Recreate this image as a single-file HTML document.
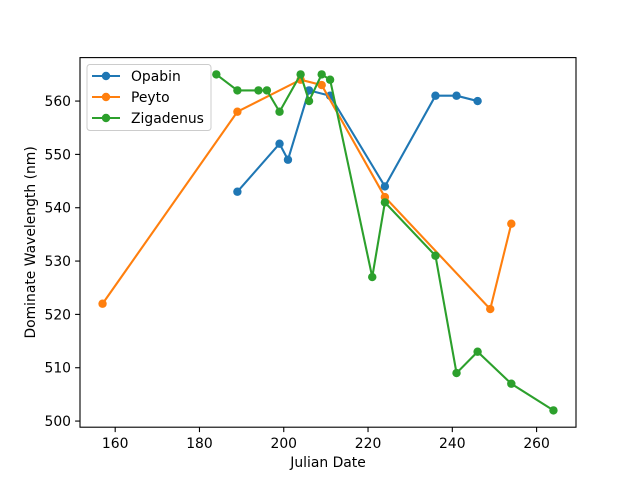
<!DOCTYPE html>
<html><head><meta charset="utf-8"><style>body{margin:0;background:#fff}svg{display:block;font-family:"DejaVu Sans","Liberation Sans",sans-serif}</style></head>
<body>
<svg id="chart" width="640" height="480"></svg>
<script>
const opabinX=[189,199,201,206,211,224,236,241,246];
const opabinY=[543,552,549,562,561,544,561,561,560];
const peytoX=[157,189,204,209,224,249,254];
const peytoY=[522,558,564,563,542,521,537];
const zigX=[184,189,194,196,199,204,206,209,211,221,224,236,241,246,254,264];
const zigY=[565,562,562,562,558,565,560,565,564,527,541,531,509,513,507,502];
const xTicks=[160,180,200,220,240,260];
const yTicks=[500,510,520,530,540,550,560];
const seriesNames=["Opabin","Peyto","Zigadenus"];
const colors=["#1f77b4","#ff7f0e","#2ca02c"];
const L=80,R=576,T=57.6,B=427.2,xmin=151.65,xmax=269.35,ymin=498.85,ymax=568.15;
const sx=v=>L+(v-xmin)/(xmax-xmin)*(R-L);
const sy=v=>B-(v-ymin)/(ymax-ymin)*(B-T);
const svg=document.getElementById('chart');const NS="http://www.w3.org/2000/svg";
function mk(t,a,p){const e=document.createElementNS(NS,t);for(const k in a)e.setAttribute(k,a[k]);(p||svg).appendChild(e);return e;}
const FS=13.9;
xTicks.forEach(v=>{const g=mk('g',{});


mk('line',{x1:sx(v),x2:sx(v),y1:B,y2:B+4.9,stroke:'#000','stroke-width':1.1},g);
const t=mk('text',{x:sx(v),y:B+21,'text-anchor':'middle','font-size':FS},g);t.textContent=v;});
yTicks.forEach(v=>{const g=mk('g',{});


mk('line',{x1:L-4.9,x2:L,y1:sy(v),y2:sy(v),stroke:'#000','stroke-width':1.1},g);
const t=mk('text',{x:L-9,y:sy(v)+5,'text-anchor':'end','font-size':FS},g);t.textContent=v;});
const sets=[[opabinX,opabinY],[peytoX,peytoY],[zigX,zigY]];
sets.forEach((s,i)=>{const g=mk('g',{});


mk('polyline',{points:s[0].map((x,j)=>sx(x)+','+sy(s[1][j])).join(' '),fill:'none',stroke:colors[i],'stroke-width':2.1},g);
s[0].forEach((x,j)=>{const c=mk('circle',{cx:sx(x),cy:sy(s[1][j]),r:4.2,fill:colors[i]},g);

});});
const fr=mk('rect',{x:L,y:T,width:R-L,height:B-T,fill:'none',stroke:'#000','stroke-width':1.1});


const xl=mk('text',{x:(L+R)/2,y:467,'text-anchor':'middle','font-size':FS});xl.textContent="Julian Date";


const yl=mk('text',{x:0,y:0,'text-anchor':'middle','font-size':FS,transform:'translate(35,'+(T+B)/2+') rotate(-90)'});yl.textContent="Dominate Wavelength (nm)";


const lg=mk('g',{});


mk('rect',{x:87,y:64.5,width:124,height:66,rx:3,fill:'#fff','fill-opacity':0.8,stroke:'#ccc'},lg);
seriesNames.forEach((n,i)=>{const y=76+i*21;const e=mk('g',{},lg);


mk('line',{x1:92,x2:120,y1:y,y2:y,stroke:colors[i],'stroke-width':2.1},e);
mk('circle',{cx:106,cy:y,r:4.2,fill:colors[i]},e);
const t=mk('text',{x:131,y:y+5,'font-size':FS},e);t.textContent=n;});
</script>
</body></html>
